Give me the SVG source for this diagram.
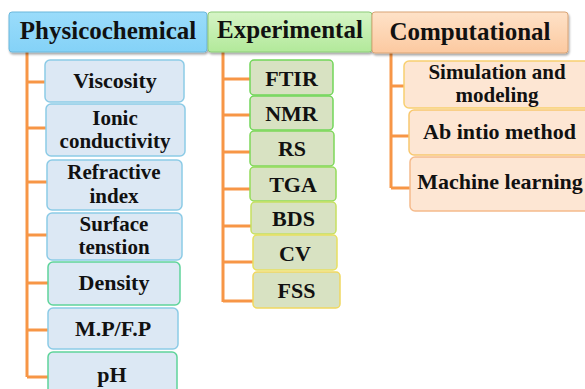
<svg xmlns="http://www.w3.org/2000/svg" width="585" height="389" viewBox="0 0 585 389">
<defs>
<linearGradient id="gb" x1="0" y1="0" x2="0" y2="1"><stop offset="0" stop-color="#9adcfb"/><stop offset="1" stop-color="#84d2f7"/></linearGradient>
<linearGradient id="gg" x1="0" y1="0" x2="0" y2="1"><stop offset="0" stop-color="#d6f4c6"/><stop offset="1" stop-color="#b2e99a"/></linearGradient>
<linearGradient id="go" x1="0" y1="0" x2="0" y2="1"><stop offset="0" stop-color="#fee2c8"/><stop offset="1" stop-color="#fcc9a0"/></linearGradient>
<filter id="sh" x="-10%" y="-20%" width="120%" height="150%"><feDropShadow dx="1" dy="2" stdDeviation="1.2" flood-color="#000" flood-opacity="0.35"/></filter>
</defs>
<style>
text{font-family:"Liberation Serif","Times New Roman",serif;font-weight:bold;fill:#111;text-anchor:middle}
.h{font-size:25px}
.c{font-size:22px}
.c2{font-size:21px}
.pb{fill:#dce8f4;stroke:#8ccbe6;stroke-width:1.5}
.pg{fill:#dce8f4;stroke:#5fd49a;stroke-width:1.5}
.eb{fill:#d8e2c2;stroke-width:1.5}
.cb{fill:#fde6d3;stroke-width:1.5}
.ln{stroke:#f79646;stroke-width:3;fill:none}
</style>
<g id="connectors">
<path class="ln" d="M27 52V377M27 82H45M27 128H46M27 182H47M27 235H47M27 283H48M27 330H48M27 377H48"/>
<path class="ln" d="M223 52V302M223 79H250M223 115H250M223 152H250M223 189H250M223 226H251M223 262H253M223 301H253"/>
<path class="ln" d="M391 53V188M391 86H404M391 136H409M391 188H410"/>
</g>
<g id="physicochemical"><rect x="9" y="12" width="198" height="40" rx="3" fill="url(#gb)" stroke="#6cb8dc" stroke-width="1" filter="url(#sh)"/><text class="h" x="108" y="39">Physicochemical</text></g>
<g id="experimental"><rect x="208" y="12" width="164" height="40" rx="3" fill="url(#gg)" stroke="#8ccc78" stroke-width="1" filter="url(#sh)"/><text class="h" x="290" y="38">Experimental</text></g>
<g id="computational"><rect x="372" y="12" width="196" height="41" rx="3" fill="url(#go)" stroke="#d9a476" stroke-width="1" filter="url(#sh)"/><text class="h" x="470" y="40">Computational</text></g>

<g id="viscosity"><rect class="pb" x="45" y="60" width="139" height="42" rx="5"/><text class="c" x="115" y="88">Viscosity</text></g>
<g id="ionic"><rect class="pb" x="46" y="104" width="139" height="52" rx="5"/><text class="c2" x="115" y="125">Ionic</text><text class="c2" x="115" y="148">conductivity</text></g>
<g id="refractive"><rect class="pb" x="47" y="160" width="135" height="50" rx="5"/><text class="c2" x="114" y="179">Refractive</text><text class="c2" x="114" y="203">index</text></g>
<g id="surface"><rect class="pb" x="47" y="213" width="135" height="47" rx="5"/><text class="c2" x="114" y="231">Surface</text><text class="c2" x="114" y="254">tenstion</text></g>
<g id="density"><rect class="pg" x="48" y="262" width="132" height="43" rx="5"/><text class="c" x="114" y="290">Density</text></g>
<g id="mpfp"><rect class="pb" x="48" y="308" width="130" height="41" rx="5"/><text class="c" x="113" y="336">M.P/F.P</text></g>
<g id="ph"><rect class="pg" x="48" y="352" width="129" height="45" rx="5"/><text class="c" x="112" y="382">pH</text></g>

<g id="ftir"><rect class="eb" x="250" y="60" width="83" height="35" rx="4" stroke="#72d65a"/><text class="c" x="291.5" y="86">FTIR</text></g>
<g id="nmr"><rect class="eb" x="250" y="96" width="83" height="34" rx="4" stroke="#72d65a"/><text class="c" x="291.5" y="121">NMR</text></g>
<g id="rs"><rect class="eb" x="250" y="131" width="84" height="35" rx="4" stroke="#7ed85a"/><text class="c" x="292" y="156">RS</text></g>
<g id="tga"><rect class="eb" x="250" y="167" width="86" height="34" rx="4" stroke="#94dc5a"/><text class="c" x="293" y="192">TGA</text></g>
<g id="bds"><rect class="eb" x="251" y="202" width="85" height="32" rx="4" stroke="#c6e060"/><text class="c" x="293.5" y="226">BDS</text></g>
<g id="cv"><rect class="eb" x="253" y="235" width="84" height="35" rx="4" stroke="#e8e060"/><text class="c" x="295" y="261">CV</text></g>
<g id="fss"><rect class="eb" x="253" y="272" width="87" height="36" rx="4" stroke="#f0d860"/><text class="c" x="296.5" y="298">FSS</text></g>

<g id="simulation"><rect class="cb" x="404" y="61" width="190" height="47" rx="5" stroke="#f8d070"/><text class="c2" x="497" y="79">Simulation and</text><text class="c2" x="497" y="102">modeling</text></g>
<g id="abintio"><rect class="cb" x="409" y="110" width="185" height="45" rx="5" stroke="#f8c870"/><text class="c" x="499.5" y="139">Ab intio method</text></g>
<g id="machine"><rect class="cb" x="410" y="157" width="184" height="54" rx="5" stroke="#f5bb8c"/><text class="c" x="500" y="189">Machine learning</text></g>
</svg>
